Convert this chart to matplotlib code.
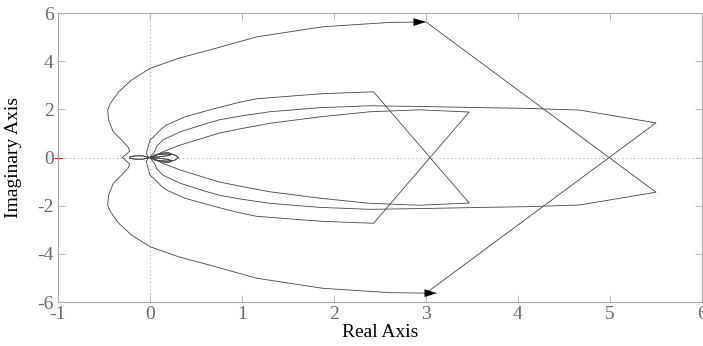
import numpy as np
import matplotlib
matplotlib.use("Agg")
import matplotlib.pyplot as plt

plt.rcParams['font.family'] = ['Liberation Serif', 'DejaVu Serif']
plt.rcParams['axes.unicode_minus'] = False

# Nyquist curve 1 (outer), upper branch
a_re = [-0.30, -0.27, -0.22, -0.24, -0.31, -0.40, -0.45, -0.46, -0.43, -0.34, -0.20, 0.0, 0.31, 0.71, 1.16, 1.88, 2.61, 3.0]
a_im = [0.0, 0.10, 0.27, 0.45, 0.73, 1.07, 1.56, 1.97, 2.25, 2.73, 3.22, 3.70, 4.12, 4.53, 5.01, 5.43, 5.61, 5.63]
# partner branch of curve 1
c2_re = [0.0, 0.05, 0.07, 0.14, 0.33, 0.62, 0.76, 0.98, 1.30, 1.85, 2.39, 2.93, 3.48, 4.10, 4.67, 5.5]
c2_im = [0.02, 0.24, 0.45, 0.73, 1.07, 1.42, 1.57, 1.72, 1.90, 2.07, 2.15, 2.12, 2.08, 2.04, 1.97, 1.44]

# Nyquist curve 2 (inner)
b_re = [-0.02, -0.04, -0.02, 0.0, 0.04, 0.13, 0.18, 0.38, 0.71, 0.98, 1.16, 1.70, 1.88, 2.43]
b_im = [0.02, 0.17, 0.45, 0.73, 0.86, 1.21, 1.35, 1.69, 2.04, 2.30, 2.44, 2.60, 2.65, 2.73]
c3_re = [0.03, 0.07, 0.14, 0.33, 0.62, 0.76, 0.98, 1.30, 1.85, 2.39, 2.93, 3.47]
c3_im = [0.03, 0.10, 0.24, 0.52, 0.86, 1.02, 1.19, 1.42, 1.69, 1.90, 1.98, 1.89]

# small loops near the origin (upper halves)
loop1_re = [0.0, 0.08, 0.18, 0.27, 0.31]
loop1_im = [0.0, 0.12, 0.15, 0.11, 0.0]
loop2_re = [0.0, 0.05, 0.12, 0.20, 0.24, 0.20, 0.10, 0.0]
loop2_im = [0.0, 0.10, 0.18, 0.20, 0.14, 0.08, 0.03, 0.0]
loop3_re = [0.0, -0.08, -0.16, -0.22]
loop3_im = [0.0, 0.07, 0.07, 0.03]

xticks = [-1, 0, 1, 2, 3, 4, 5, 6]
yticks = [-6, -4, -2, 0, 2, 4, 6]

fig = plt.figure(figsize=(7.03, 3.46), dpi=100)
ax = fig.add_axes([0.0825, 0.127, 0.916, 0.8354])

lc = '#444444'
lw = 0.6

def z(re, im):
    return np.array(re) + 1j * np.array(im)

A = z(a_re, a_im); C2 = z(c2_re, c2_im)
B = z(b_re, b_im); C3 = z(c3_re, c3_im)

paths = [
    np.concatenate([A, np.conj(C2)[::-1]]),
    np.concatenate([C2, np.conj(A)[::-1]]),
    np.concatenate([B, np.conj(C3)[::-1]]),
    np.concatenate([C3, np.conj(B)[::-1]]),
]
for p in paths:
    ax.plot(p.real, p.imag, color=lc, lw=lw)

for lr, li in [(loop1_re, loop1_im), (loop2_re, loop2_im), (loop3_re, loop3_im)]:
    L = z(lr, li)
    full = np.concatenate([L, np.conj(L)[::-1]])
    ax.plot(full.real, full.imag, color=lc, lw=lw)
    ax.plot(full.real, -full.imag, color=lc, lw=lw)

# arrows
ax.annotate('', xy=(A[-1].real, A[-1].imag), xytext=(A[-2].real, A[-2].imag),
            arrowprops=dict(arrowstyle='-|>,head_length=0.9,head_width=0.28',
                            color='black', lw=0, shrinkA=0, shrinkB=0))
ax.annotate('', xy=(A[-1].real, -A[-1].imag), xytext=(A[-1].real + 0.12, -A[-1].imag + 0.0),
            arrowprops=dict(arrowstyle='<|-,head_length=0.9,head_width=0.28',
                            color='black', lw=0, shrinkA=0, shrinkB=0))

ax.axhline(0, color='#b0b0b0', lw=0.8, ls=(0, (1, 2.5)), zorder=0)
ax.axvline(0, color='#b0b0b0', lw=0.8, ls=(0, (1, 2.5)), zorder=0)
ax.plot([-1], [0], marker='+', color='red', ms=6, mew=0.8, clip_on=False)

ax.set_xlim(-1, 6)
ax.set_ylim(-6, 6)
ax.set_xticks(xticks)
ax.set_yticks(yticks)
ax.tick_params(direction='in', length=5, width=0.6, color='#b0b0b0',
               labelcolor='#6a6a6a', labelsize=14, top=True, right=True, pad=3)
for s in ax.spines.values():
    s.set_color('#a8a8a8')
    s.set_linewidth(0.8)

ax.set_xlabel('Real Axis', fontsize=14)
ax.xaxis.set_label_coords(0.5, -0.075)
ax.set_ylabel('Imaginary Axis', fontsize=14)
ax.yaxis.set_label_coords(-0.056, 0.5)

fig.savefig('out.png', dpi=100)
